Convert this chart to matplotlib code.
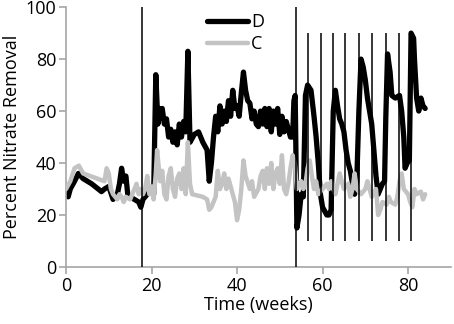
import numpy as np
import matplotlib
matplotlib.use("Agg")
import matplotlib.pyplot as plt

plt.rcParams["font.family"] = ["Open Sans", "DejaVu Sans"]

# D series (black)
d_weeks = [0, 0.5, 1, 2, 2.9, 4, 6, 8.3, 9, 10, 11, 12, 12.5, 13, 13.5, 14, 14.5,
           15, 16, 17, 17.5, 18, 19, 20, 20.5, 20.8, 21, 21.5, 21.8, 22, 22.5, 23,
           23.5, 24, 24.5, 25, 25.5, 26, 26.5, 27, 27.5, 28, 28.5, 29, 30, 31, 32,
           33, 33.5, 34, 34.5, 35, 35.5, 36, 36.5, 37, 37.5, 38, 38.5, 39, 39.5,
           40, 40.5, 41, 41.5, 42, 42.5, 43, 43.5, 44, 44.5, 45, 45.5, 46, 46.5,
           47, 47.5, 48, 48.5, 49, 49.5, 50, 50.5, 51, 51.5, 52, 52.5, 53, 53.3,
           53.6, 54, 54.5, 55, 55.5, 56, 56.5, 57.3, 58, 58.5, 59, 59.5, 60, 61,
           61.5, 62, 62.5, 63, 63.5, 64, 64.5, 65, 65.5, 66, 66.5, 67, 67.5, 68,
           68.5, 69, 69.5, 70, 70.5, 71, 71.5, 72, 72.5, 73, 73.5, 74, 74.5, 74.8,
           75.2, 75.8, 76.2, 77, 78, 78.5, 79, 79.3, 79.8, 80.3, 80.7, 81.3, 81.5,
           82, 82.5, 83, 83.5, 84]
d_vals = [28, 27, 30, 33, 36, 34, 32, 29, 30, 31, 26, 28, 32, 38, 33, 35, 27,
          27, 26, 25, 23, 26, 28, 30, 28, 55, 74, 55, 61, 57, 61, 55,
          57, 50, 53, 48, 52, 47, 55, 50, 56, 52, 83, 48, 51, 52, 48,
          45, 33, 40, 50, 58, 52, 62, 55, 60, 56, 64, 58, 68, 61,
          62, 58, 67, 75, 68, 64, 63, 57, 60, 55, 54, 60, 55, 61,
          54, 61, 52, 60, 55, 61, 51, 58, 52, 56, 53, 50, 50, 64,
          66, 15, 20, 28, 27, 66, 70, 68, 58, 50, 40, 28, 23, 20,
          20, 22, 60, 68, 62, 57, 55, 52, 45, 40, 37, 32, 28, 33,
          60, 80, 77, 72, 65, 60, 55, 45, 35, 28, 30, 32, 33, 58,
          82, 75, 66, 65, 66, 60, 50, 38, 40, 41, 90, 88, 80,
          65, 60, 65, 62, 61]

# C series (grey)
c_weeks = [0, 1, 2, 3, 4, 9, 9.5, 10, 10.5, 11, 12, 12.5, 13, 13.5, 14, 15, 16,
           16.5, 17, 17.5, 18, 18.5, 19, 19.5, 20, 20.5, 21, 21.3, 21.6, 22, 22.5,
           23, 23.5, 24, 24.5, 25, 25.5, 26, 26.5, 27, 27.5, 28, 28.5, 29, 29.5,
           32, 33, 33.5, 34, 35, 35.5, 36, 36.5, 37, 37.5, 38, 39, 39.5, 40, 40.5,
           41, 41.5, 42, 43, 43.5, 44, 45, 45.5, 46, 46.5, 47, 47.5, 48, 48.5, 49,
           49.5, 50, 50.5, 51, 51.5, 52, 52.5, 53, 53.5, 54, 54.5, 55, 55.5, 56,
           56.5, 57, 57.5, 58, 58.5, 59, 60, 61, 61.5, 62, 62.5, 63, 64, 64.5, 65,
           66, 66.5, 67, 67.5, 68, 69, 70, 70.5, 71, 71.5, 72, 72.5, 73, 73.5, 74,
           75, 75.5, 76, 77, 77.5, 78, 78.5, 79, 80, 80.5, 81, 81.5, 82, 83, 83.5,
           84]
c_vals = [30, 33, 38, 39, 36, 33, 38, 36, 30, 28, 26, 28, 27, 25, 27, 26, 30,
          32, 28, 30, 28, 30, 35, 28, 31, 26, 36, 45, 40, 33, 37,
          28, 26, 35, 38, 30, 27, 34, 36, 30, 38, 28, 48, 32, 28,
          27, 26, 22, 23, 27, 37, 30, 32, 36, 30, 34, 28, 25, 18, 22,
          30, 41, 35, 30, 33, 27, 30, 35, 37, 30, 38, 32, 40, 30, 36,
          38, 32, 43, 30, 28, 32, 38, 43, 40, 30, 32, 33, 30, 32,
          38, 41, 35, 30, 33, 28, 30, 32, 30, 33, 30, 28, 36, 33, 30,
          32, 27, 30, 36, 30, 28, 30, 33, 30, 27, 28, 30, 20, 22, 25,
          24, 27, 25, 24, 27, 33, 36, 30, 28, 25, 23, 30, 28, 29, 26,
          28]

# treatment events
full_events = [17.7, 53.7]
short_events = [56.5, 59.6, 62.4, 65.3, 68.6, 71.5, 74.9, 77.9, 80.6]

grey = "#a6a6a6"

fig = plt.figure(figsize=(4.54, 3.24), dpi=100)
ax = fig.add_axes([0.1454, 0.176, 0.8476, 0.802])

ax.plot(d_weeks, d_vals, color="black", lw=3.8, solid_joinstyle="round",
        solid_capstyle="round", label="D", zorder=2)
ax.plot(c_weeks, c_vals, color="#c3c3c3", lw=3.2, solid_joinstyle="round",
        solid_capstyle="round", label="C", zorder=3)

for x in full_events:
    ax.vlines(x, 0, 100, color="black", lw=1.1, zorder=4)
ax.vlines(short_events, 10, 90, color="black", lw=1.1, zorder=4)

ax.set_xlim(0, 90)
ax.set_ylim(0, 100)
ax.set_xticks([0, 20, 40, 60, 80])
ax.set_yticks([0, 20, 40, 60, 80, 100])

for s in ["top", "right"]:
    ax.spines[s].set_visible(False)
for s in ["left", "bottom"]:
    ax.spines[s].set_color(grey)
    ax.spines[s].set_linewidth(1.2)
ax.tick_params(direction="out", length=5, width=1.2, color=grey,
               labelsize=13, pad=2)

ax.set_xlabel("Time (weeks)", fontsize=13, labelpad=1)
ax.set_ylabel("Percent Nitrate Removal", fontsize=13, labelpad=3)

leg = ax.legend(loc="center left", bbox_to_anchor=(0.366, 0.90), frameon=False,
                fontsize=13, handlelength=2.3, handletextpad=0.15,
                labelspacing=0.25, borderaxespad=0, borderpad=0)

fig.savefig("out.png", dpi=100)
